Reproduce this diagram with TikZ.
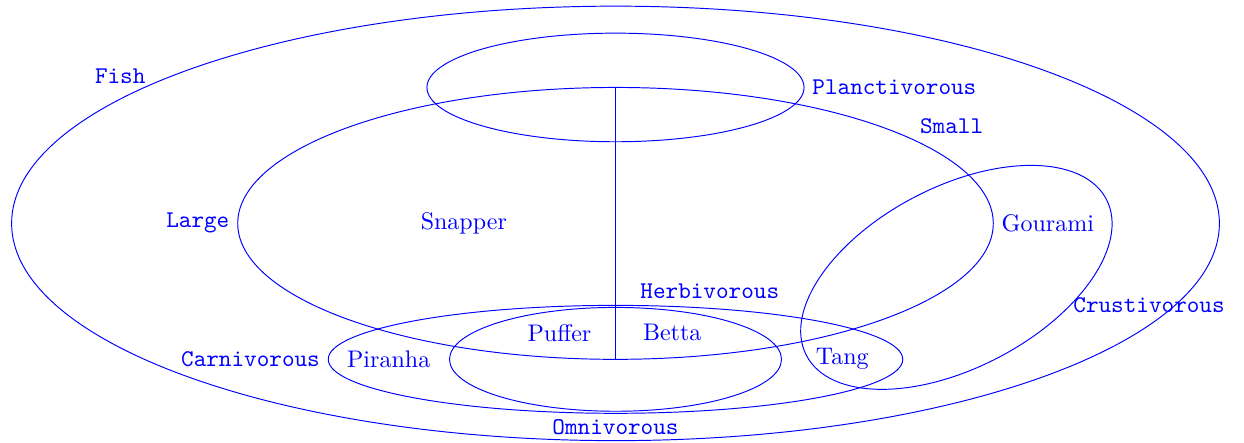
\documentclass[tikz,border=0pt]{standalone}
\usetikzlibrary{positioning,shapes.geometric}

\begin{document}
\begin{tikzpicture}[
  color=blue,
  node distance=0pt,
  set/.style={draw=blue, ellipse, inner sep=0pt, outer sep=0pt},
  tag/.style={font=\ttfamily, text=blue, inner sep=3.3pt},
  kind/.style={text=blue, inner sep=3.3pt}
]
\useasboundingbox (-9.01,-3.21) rectangle (9.20,3.27);

\node[set, minimum width=17.68cm, minimum height=6.36cm] (fishset) at (0,0) {};
\node[set, minimum width=11.06cm, minimum height=3.98cm] (sizeset) at (0,0) {};
\node[set, minimum width=5.52cm, minimum height=1.59cm] (planset) at (sizeset.north) {};
\node[set, minimum width=8.41cm, minimum height=1.58cm] (carnset) at (sizeset.south) {};
\node[set, minimum width=4.86cm, minimum height=1.52cm] (herbset) at (sizeset.south) {};
\node[set, rotate=27.5, minimum width=4.95cm, minimum height=2.65cm] (crustset) at (4.99,-0.79) {};
\draw[blue] (sizeset.north) -- (sizeset.south);

\node[tag] (fishtag) at (-7.25,2.15) {Fish};
\node[tag, right=of planset.east] (plantag) {Planctivorous};
\node[tag] (smalltag) at (4.92,1.43) {Small};
\node[tag, left=of sizeset.west] (largetag) {Large};
\node[tag] (herbtag) at (1.38,-1.00) {Herbivorous};
\node[tag, left=of carnset.west] (carntag) {Carnivorous};
\node[tag] (omnitag) at (0,-2.99) {Omnivorous};
\node[tag] (crusttag) at (7.81,-1.19) {Crustivorous};

\node[kind] (snapper) at (-2.22,0) {Snapper};
\node[kind, right=of sizeset.east] (gourami) {Gourami};
\node[kind] (puffer) at (-0.82,-1.60) {Puffer};
\node[kind] (betta) at (0.83,-1.59) {Betta};
\node[kind] (piranha) at (-3.32,-1.99) {Piranha};
\node[kind] (tang) at (3.32,-1.98) {Tang};
\end{tikzpicture}
\end{document}
